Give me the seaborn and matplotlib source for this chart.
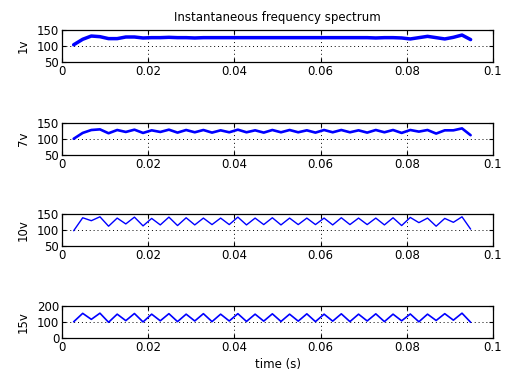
import numpy as np
import pandas as pd
import matplotlib
matplotlib.use('Agg')
import matplotlib.pyplot as plt
import seaborn as sns

# ============================================================================
# Data
# ============================================================================

time_s = [0.0027, 0.0048, 0.0068, 0.0088, 0.0108, 0.0128, 0.0148, 0.0168,
          0.0188, 0.0208, 0.0228, 0.0248, 0.0268, 0.0288, 0.0308, 0.0328,
          0.0348, 0.0368, 0.0388, 0.0408, 0.0428, 0.0448, 0.0468, 0.0488,
          0.0508, 0.0528, 0.0548, 0.0568, 0.0588, 0.0608, 0.0628, 0.0648,
          0.0668, 0.0688, 0.0708, 0.0728, 0.0748, 0.0768, 0.0788, 0.0808,
          0.0828, 0.0848, 0.0868, 0.0888, 0.0908, 0.0928, 0.0948]

freq_1v = [103, 120, 130, 128, 122, 122, 127, 127, 124, 125, 125, 126,
           125, 125, 124, 125, 125, 125, 125, 125, 125, 125, 125, 125,
           125, 125, 125, 125, 125, 125, 125, 125, 125, 125, 125, 124,
           125, 125, 124, 121, 125, 129, 125, 121, 126, 133, 119]

freq_7v = [100, 118, 127, 129, 117, 127, 121, 128, 118, 126, 121, 128,
           119, 127, 120, 127, 119, 126, 120, 128, 120, 126, 119, 127,
           120, 127, 120, 126, 119, 127, 120, 127, 120, 126, 119, 127,
           120, 127, 118, 127, 122, 127, 116, 126, 126, 132, 111]

freq_10v = [97, 137, 128, 140, 111, 136, 118, 139, 112, 135, 115, 139,
            113, 137, 115, 136, 116, 136, 116, 139, 115, 136, 116, 137,
            115, 136, 116, 136, 116, 136, 115, 137, 116, 136, 116, 136,
            115, 137, 113, 138, 122, 136, 111, 135, 123, 140, 102]

freq_15v = [100, 152, 115, 153, 97, 147, 107, 151, 99, 147, 106, 150,
            101, 147, 105, 150, 101, 147, 105, 150, 102, 147, 104, 149,
            102, 147, 104, 149, 101, 147, 104, 149, 101, 147, 105, 149,
            101, 147, 106, 148, 100, 147, 108, 150, 110, 153, 97]

panel_labels = ['1v', '7v', '10v', '15v']
panel_series = [freq_1v, freq_7v, freq_10v, freq_15v]
panel_yticks = [[50, 100, 150], [50, 100, 150], [50, 100, 150], [0, 100, 200]]
x_ticks = [0, 0.02, 0.04, 0.06, 0.08, 0.1]
x_ticklabels = ['0', '0.02', '0.04', '0.06', '0.08', '0.1']

# ============================================================================
# Plot
# ============================================================================

sns.set_style('ticks')
plt.rcParams['font.family'] = ['DejaVu Sans']
plt.rcParams['font.size'] = 8.5
plt.rcParams['text.color'] = 'black'
plt.rcParams['axes.labelcolor'] = 'black'

fig = plt.figure(figsize=(5.05, 3.71), dpi=100)

left, width, height = 0.1228, 0.8535, 0.0875
bottoms = [0.8329, 0.5822, 0.3369, 0.0889]
line_widths = [2.5, 1.9, 1.0, 1.2]

for i, (lab, vals) in enumerate(zip(panel_labels, panel_series)):
    ax = fig.add_axes([left, bottoms[i], width, height])
    df = pd.DataFrame({'t': time_s, 'f': vals})
    sns.lineplot(data=df, x='t', y='f', ax=ax, color='#0000FF',
                 linewidth=line_widths[i], estimator=None, sort=False)

    yt = panel_yticks[i]
    ax.set_xlim(0, 0.1)
    ax.set_ylim(yt[0], yt[-1])
    ax.set_xticks(x_ticks)
    ax.set_xticklabels(x_ticklabels)
    ax.set_yticks(yt)
    ax.set_yticklabels([str(v) for v in yt])

    ax.grid(True, color='black', linestyle=(0, (1, 3)), linewidth=0.7)
    ax.tick_params(direction='in', top=True, right=True, length=3,
                   width=0.8, labelsize=8.5, pad=2, colors='black')
    for sp in ax.spines.values():
        sp.set_linewidth(0.9)
        sp.set_color('black')

    ax.set_ylabel(lab, fontsize=8.5, labelpad=5, color='black')
    ax.set_xlabel('')

    if i == 0:
        ax.set_title('Instantaneous frequency spectrum', fontsize=8.5,
                     pad=6, color='black')
    if i == 3:
        ax.set_xlabel('time (s)', fontsize=8.5, labelpad=3, color='black')

fig.savefig('out.png', dpi=100, facecolor='white')
